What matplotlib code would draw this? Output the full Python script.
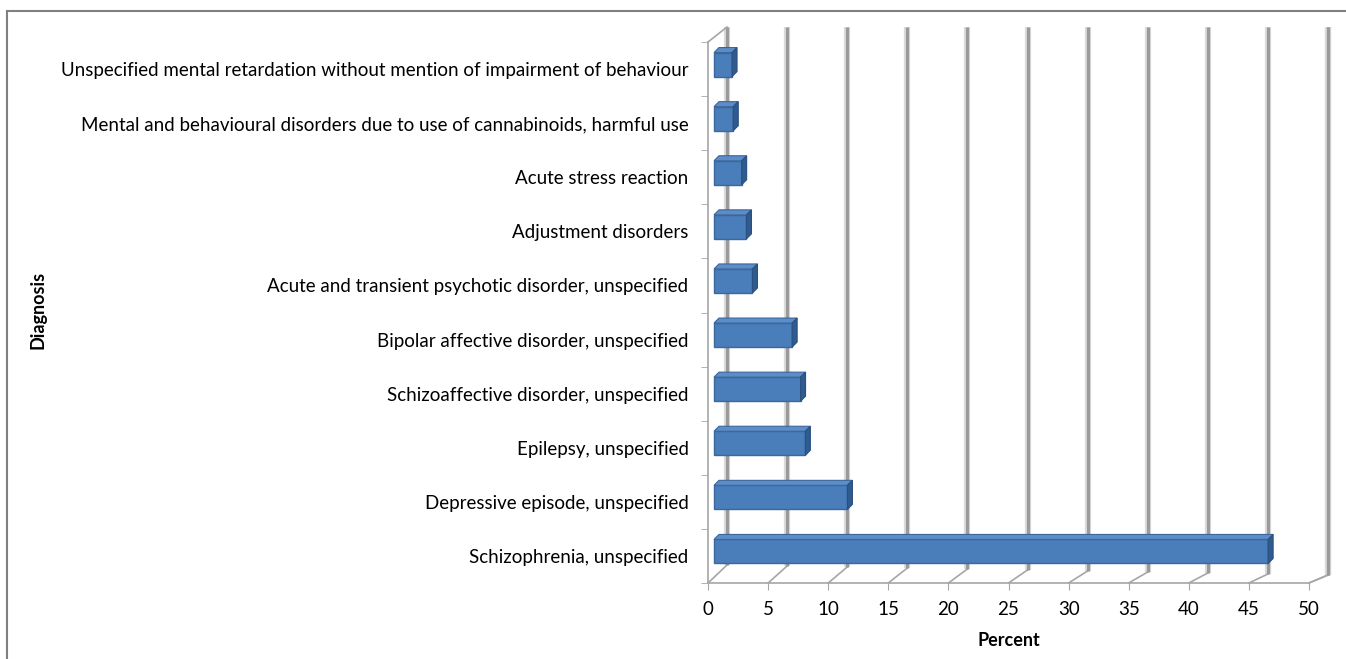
import matplotlib
matplotlib.use("Agg")
import matplotlib.pyplot as plt
from matplotlib.patches import Polygon
from matplotlib.lines import Line2D

plt.rcParams['font.family'] = ['Lato', 'DejaVu Sans']

# data (bottom to top)
diagnoses = [
    "Schizophrenia, unspecified",
    "Depressive episode, unspecified",
    "Epilepsy, unspecified",
    "Schizoaffective disorder, unspecified",
    "Bipolar affective disorder, unspecified",
    "Acute and transient psychotic disorder, unspecified",
    "Adjustment disorders",
    "Acute stress reaction",
    "Mental and behavioural disorders due to use of cannabinoids, harmful use",
    "Unspecified mental retardation without mention of impairment of behaviour",
]
percent = [46.1, 11.1, 7.6, 7.2, 6.5, 3.2, 2.7, 2.3, 1.6, 1.5]
xticks = list(range(0, 55, 5))

W, H = 1346, 659
fig = plt.figure(figsize=(W / 100, H / 100), dpi=100)
# front plot area in pixels: x 708..1309, y 42..583
ax = fig.add_axes([708 / W, (H - 583) / H, 601 / W, 541 / H])
ax.set_xlim(0, 50)
ax.set_ylim(-0.5, len(diagnoses) - 0.5)

px = 50 / 601          # data units per pixel, x
py = len(diagnoses) / 541  # data units per pixel, y
ytop = len(diagnoses) - 0.5
ybot = -0.5

# back wall / floor of the 3-D box
grid_kw = dict(color='#9a9a9a', lw=2.3, solid_capstyle='butt', clip_on=False, zorder=1)
shade_kw = dict(color='#dcdcdc', lw=4.5, solid_capstyle='butt', clip_on=False, zorder=0.9)
for t in xticks + [50]:
    dx = 19 * px
    rise = (18 - 10 * t / 50) * py
    ax.plot([t, t + dx], [ybot, ybot + rise], color='#a6a6a6', lw=1.2, clip_on=False, zorder=1)
    ax.plot([t + dx, t + dx], [ybot + rise, ytop + 15 * py], **shade_kw)
    ax.plot([t + dx, t + dx], [ybot + rise, ytop + 15 * py], **grid_kw)
# left wall top edge
ax.plot([0, 19 * px], [ytop, ytop + 15 * py], color='#a6a6a6', lw=1.2, clip_on=False, zorder=1)

# 3-D bars
x0 = 6 * px
h = 24 * py
off = 4.5 * py
ddx, ddy = 5 * px, 5 * py
for i, v in enumerate(percent):
    b = i - h / 2 + off
    t = b + h
    front = Polygon([(x0, b), (x0 + v, b), (x0 + v, t), (x0, t)],
                    closed=True, fc='#4a7ebb', ec='#3a679c', lw=1.0, zorder=3)
    top = Polygon([(x0, t), (x0 + v, t), (x0 + v + ddx, t + ddy), (x0 + ddx, t + ddy)],
                  closed=True, fc='#5d8dc8', ec='#3a679c', lw=0.8, zorder=3)
    side = Polygon([(x0 + v, b), (x0 + v, t), (x0 + v + ddx, t + ddy), (x0 + v + ddx, b + ddy)],
                   closed=True, fc='#2f5b8e', ec='#2a5080', lw=0.8, zorder=3)
    for p in (front, top, side):
        ax.add_patch(p)

# axes styling
for s in ['top', 'right']:
    ax.spines[s].set_visible(False)
for s in ['left', 'bottom']:
    ax.spines[s].set_color('#a6a6a6')
    ax.spines[s].set_linewidth(1.2)
ax.set_xticks(xticks)
ax.set_xticklabels([str(x) for x in xticks], fontsize=13.5)
ax.tick_params(axis='x', length=5, color='#a6a6a6', pad=8)
ax.set_yticks(range(len(diagnoses)))
ax.set_yticklabels(diagnoses, fontsize=13.5)
ax.tick_params(axis='y', length=0, pad=14)
ax.set_yticks([k - 0.5 for k in range(len(diagnoses) + 1)], minor=True)
ax.tick_params(axis='y', which='minor', length=5, color='#a6a6a6')
ax.set_xlabel('Percent', fontsize=13, fontweight='bold', labelpad=10)
fig.text(38 / W, 1 - 310 / H, 'Diagnosis', rotation=90, fontsize=13,
         fontweight='bold', ha='center', va='center')
ax.patch.set_alpha(0)

# outer chart border
fig.add_artist(Line2D([7 / W, 7 / W], [0, 1 - 11 / H], color='#808080', lw=1.5))
fig.add_artist(Line2D([7 / W, 1], [1 - 11 / H, 1 - 11 / H], color='#808080', lw=1.5))

fig.savefig('out.png', dpi=100)
